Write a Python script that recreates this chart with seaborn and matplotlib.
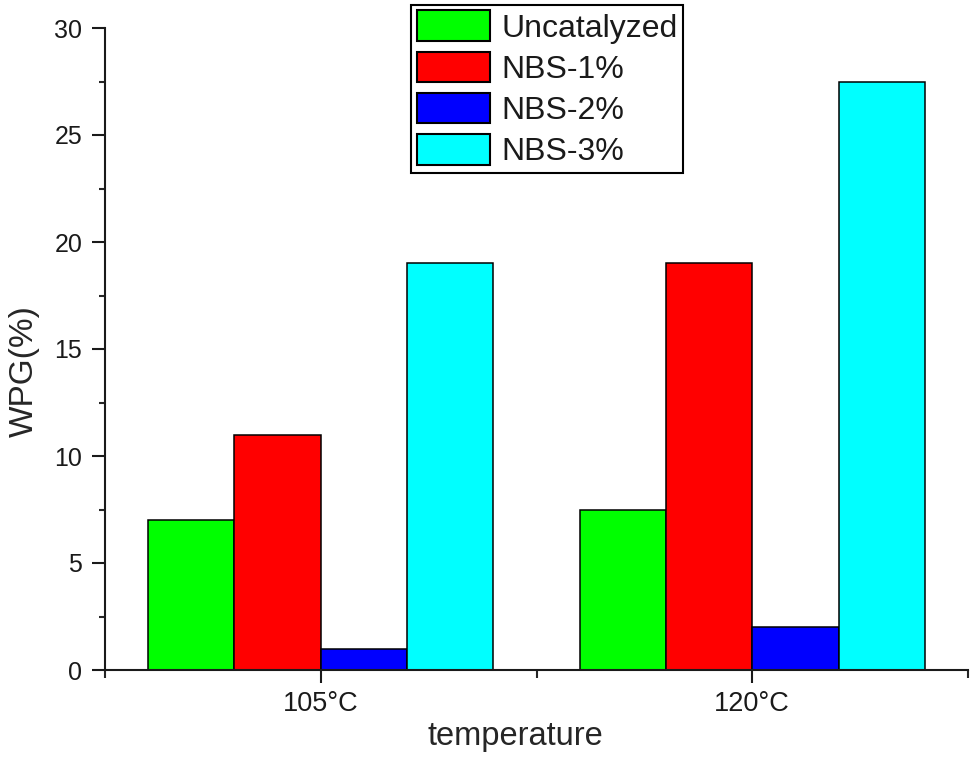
import matplotlib
matplotlib.use("Agg")
import matplotlib.pyplot as plt
from matplotlib.ticker import MultipleLocator, FixedLocator
import pandas as pd
import seaborn as sns

# values
temperatures = ["105°C", "120°C"]
catalysts = ["Uncatalyzed", "NBS-1%", "NBS-2%", "NBS-3%"]
wpg_105 = [7.0, 11.0, 1.0, 19.0]
wpg_120 = [7.5, 19.0, 2.0, 27.5]
bar_colors = ["#00ff00", "#ff0000", "#0000ff", "#00ffff"]

rows = []
for temp, values in zip(temperatures, [wpg_105, wpg_120]):
    for cat, v in zip(catalysts, values):
        rows.append({"temperature": temp, "catalyst": cat, "WPG": v})
df = pd.DataFrame(rows)

sns.set_style("ticks")
plt.rcParams["font.family"] = ["Liberation Sans", "DejaVu Sans"]
plt.rcParams["text.color"] = "#1a1a1a"

fig = plt.figure(figsize=(9.75, 7.6), dpi=100)
ax = fig.add_axes([105 / 975, 1 - 670 / 760, 863 / 975, 642 / 760])

sns.barplot(
    data=df, x="temperature", y="WPG", hue="catalyst",
    hue_order=catalysts, palette=bar_colors, saturation=1,
    edgecolor="black", linewidth=1.1, errorbar=None, ax=ax,
)

ax.set_xlim(-0.5, 1.5)
ax.set_ylim(0, 30)
ax.yaxis.set_major_locator(MultipleLocator(5))
ax.yaxis.set_minor_locator(MultipleLocator(2.5))
ax.xaxis.set_minor_locator(FixedLocator([-0.5, 0.5, 1.5]))

for side in ["top", "right"]:
    ax.spines[side].set_visible(False)
for side in ["left", "bottom"]:
    ax.spines[side].set_linewidth(1.5)
    ax.spines[side].set_color("#1a1a1a")

ax.tick_params(axis="y", which="major", direction="out", length=9.4, width=1.5,
               labelsize=18, pad=7, colors="#1a1a1a")
ax.tick_params(axis="y", which="minor", direction="out", length=4.3, width=1.5)
ax.tick_params(axis="x", which="major", direction="out", length=9.4, width=1.5,
               labelsize=19.5, pad=6, colors="#1a1a1a")
ax.tick_params(axis="x", which="minor", direction="out", length=5.8, width=1.5)

ax.set_xlabel("temperature", fontsize=23.5)
ax.set_ylabel("WPG(%)", fontsize=24)
ax.xaxis.set_label_coords(0.475, -0.08)
ax.yaxis.set_label_coords(-0.075, 0.466)

handles, labels = ax.get_legend_handles_labels()
ax.get_legend().remove()
leg = fig.legend(
    handles, labels, loc="upper center", bbox_to_anchor=(547 / 975, 1 - 5 / 760),
    fontsize=23, frameon=True, fancybox=False, framealpha=1,
    handlelength=2.3, handleheight=1.1, handletextpad=0.35,
    labelspacing=0.25, borderpad=0.17, borderaxespad=0,
)
leg.get_frame().set_edgecolor("black")
leg.get_frame().set_linewidth(1.5)
for h in leg.legend_handles:
    h.set_edgecolor("black")
    h.set_linewidth(1.5)

fig.savefig("out.png", dpi=100)
